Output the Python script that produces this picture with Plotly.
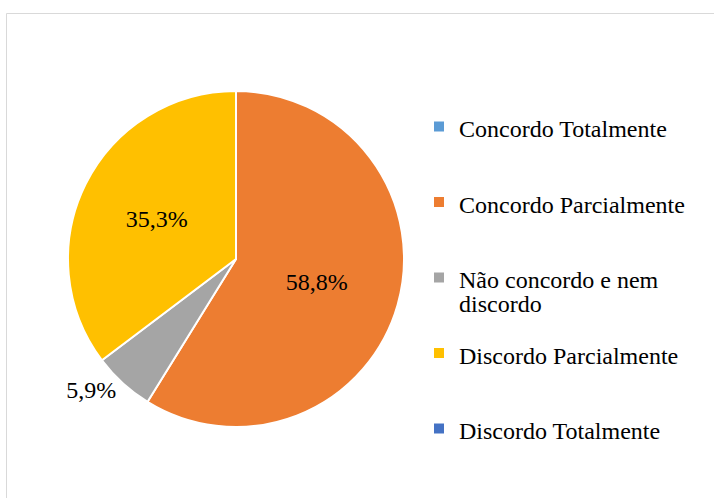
import plotly.graph_objects as go

categories = ["Concordo Totalmente", "Concordo Parcialmente",
              "Não concordo e nem<br>discordo", "Discordo Parcialmente",
              "Discordo Totalmente"]
counts = [0, 10, 1, 6, 0]
colors = ["#5B9BD5", "#ED7D31", "#A5A5A5", "#FFC000", "#4472C4"]
positions = ["inside", "inside", "outside", "inside", "inside"]

W, H = 714, 498
BIG = 24
BASE = 6.197  # small base font so blank lines give Excel-like legend spacing
FONT = "Liberation Serif, Times New Roman, serif"


def legend_label(name):
    parts = name.split("<br>")
    span = lambda t: f'<span style="font-size:{BIG}px">{t}</span>'
    if len(parts) == 1:
        lines = [" "] * 5 + [span(parts[0])] + [" "] * 3
    else:
        lines = [" "] * 5 + [span(parts[0]), " ", " ", span(parts[1])]
    return "<br>".join(lines)


labels = [legend_label(c) for c in categories]
templates = ["" if v == 0 else "%{percent:.1%}" for v in counts]

cx, cy, r = 236, 259, 168
fig = go.Figure(go.Pie(
    labels=labels,
    values=counts,
    sort=False,
    direction="clockwise",
    rotation=0,
    marker=dict(colors=colors, line=dict(color="white", width=2)),
    texttemplate=templates,
    textposition=positions,
    insidetextorientation="horizontal",
    textfont=dict(family=FONT, size=BIG, color="#000000"),
    hoverinfo="skip",
    domain=dict(x=[(cx - r) / W, (cx + r) / W],
                y=[1 - (cy + r) / H, 1 - (cy - r) / H]),
))

fig.update_layout(
    width=W, height=H,
    margin=dict(l=0, r=0, t=0, b=0),
    paper_bgcolor="white",
    separators=",.",
    showlegend=True,
    legend=dict(
        x=419 / W, y=1 - 83.8 / H, xanchor="left", yanchor="top",
        font=dict(family=FONT, size=BASE, color="#000000"),
        bgcolor="rgba(0,0,0,0)", borderwidth=0,
    ),
    shapes=[dict(type="rect", xref="paper", yref="paper",
                 x0=6.5 / W, x1=1.2, y0=-0.2, y1=1 - 13.5 / H,
                 line=dict(color="#D9D9D9", width=1), fillcolor="rgba(0,0,0,0)")],
)

fig.write_html("out.html")
